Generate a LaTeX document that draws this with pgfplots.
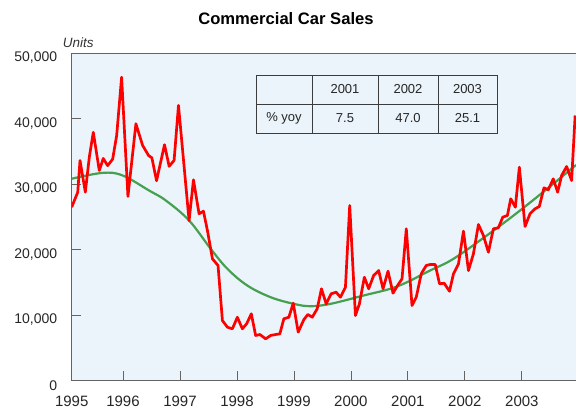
\documentclass[border=0pt]{standalone}
\usepackage{pgfplots}
\pgfplotsset{compat=1.18}
\usepackage{pgfplotstable}
\usepackage{fontspec}
\setmainfont{Liberation Sans}
\definecolor{bgblue}{RGB}{234,244,250}
\definecolor{axisgray}{RGB}{100,100,100}
\definecolor{trendgreen}{RGB}{70,160,80}
\definecolor{tablegray}{RGB}{60,60,60}

\pgfplotstableread{
x y
1995.100 26460
1995.206 28750
1995.246 33600
1995.339 28750
1995.409 34100
1995.479 37900
1995.584 32060
1995.654 33900
1995.731 32800
1995.819 33800
1995.889 37400
1995.976 46300
1996.087 28100
1996.227 39200
1996.344 35900
1996.449 34350
1996.507 34000
1996.589 30500
1996.729 36000
1996.810 32700
1996.897 33600
1996.974 42000
1997.160 24400
1997.237 30640
1997.335 25450
1997.412 25850
1997.482 22900
1997.570 18580
1997.668 17560
1997.745 9160
1997.832 8140
1997.920 7890
1998.007 9660
1998.095 7890
1998.170 8660
1998.252 10180
1998.328 6870
1998.403 7020
1998.503 6360
1998.590 6870
1998.678 7020
1998.753 7120
1998.823 9420
1998.911 9660
1998.988 11800
1999.075 7380
1999.174 9300
1999.244 10080
1999.321 9660
1999.408 10940
1999.483 14000
1999.566 11700
1999.653 13240
1999.741 13480
1999.816 12720
1999.904 14250
1999.979 26720
2000.079 9920
2000.149 11700
2000.236 15770
2000.312 14000
2000.399 16030
2000.487 16790
2000.564 14000
2000.651 16690
2000.739 13330
2000.819 14500
2000.897 15530
2000.972 23160
2001.072 11450
2001.147 12720
2001.234 16290
2001.322 17560
2001.392 17710
2001.480 17710
2001.555 14760
2001.637 14850
2001.730 13630
2001.800 16290
2001.888 17810
2001.975 22800
2002.063 16790
2002.150 19340
2002.238 23820
2002.325 22140
2002.413 19590
2002.500 23160
2002.588 23310
2002.665 24940
2002.746 25190
2002.805 27740
2002.886 26460
2002.956 32570
2003.056 23510
2003.143 25450
2003.231 26210
2003.306 26560
2003.388 29420
2003.463 29110
2003.551 30790
2003.628 28750
2003.698 31300
2003.786 32670
2003.873 30530
2003.935 40460
}\salesdata

\pgfplotstableread{
x y
1995.100 30800
1995.643 31700
1995.994 31300
1996.459 29000
1996.752 27480
1997.160 24430
1997.540 20100
1997.832 17050
1998.182 14500
1998.590 12720
1998.998 11700
1999.291 11340
1999.641 11700
2000.224 12980
2000.809 14350
2001.392 16800
2001.800 18580
2002.385 22140
2002.968 25950
2003.551 30030
2003.950 32900
}\trenddata

\begin{document}
\begin{tikzpicture}
\path[use as bounding box] (-71.7pt,-31.5pt) rectangle (504.3pt,380.5pt);
\begin{axis}[
  at={(0pt,0pt)}, anchor=south west,
  scale only axis, width=504.3pt, height=327.5pt,
  xmin=1995.10, xmax=2003.95, ymin=0, ymax=50000,
  scaled y ticks=false, scaled x ticks=false,
  axis background/.style={fill=bgblue},
  axis line style={draw=axisgray, line width=0.8pt},
  xtick={1996,1997,1998,1999,2000,2001,2002,2003},
  xticklabels={1996,1997,1998,1999,2000,2001,2002,2003},
  extra x ticks={1995.10}, extra x tick labels={1995},
  extra x tick style={major tick length=0pt},
  ytick={0,10000,20000,30000,40000,50000},
  yticklabels={0,{10,000},{20,000},{30,000},{40,000},{50,000}},
  xtick pos=bottom, ytick pos=left,
  tick align=inside,
  major tick length=9pt,
  tick style={draw=axisgray, line width=0.8pt},
  xticklabel style={font=\fontsize{15}{15}\selectfont, yshift=-12pt, text=black!85},
  yticklabel style={font=\fontsize{14}{14}\selectfont, xshift=-11pt, yshift=-5pt, text=black!85},
  clip=true,
]
\addplot[trendgreen, line width=2.2pt, smooth, tension=0.6] table[x=x,y=y] {\trenddata};
\addplot[red, line width=2.7pt, line join=round] table[x=x,y=y] {\salesdata};
\end{axis}
% title and unit label
\node[font=\bfseries\fontsize{16.6}{20}\selectfont] at (214.3pt,361.5pt) {Commercial Car Sales};
\node[anchor=west, font=\itshape\fontsize{13.5}{15}\selectfont, text=black!80, inner sep=0pt] at (-9pt,337.5pt) {Units};
% table
\begin{scope}[draw=tablegray, line width=0.8pt]
\draw (184.3pt,247.5pt) rectangle (425.3pt,305.5pt);
\draw (184.3pt,276.5pt) -- (425.3pt,276.5pt);
\draw (240.3pt,247.5pt) -- (240.3pt,305.5pt);
\draw (306.3pt,247.5pt) -- (306.3pt,305.5pt);
\draw (366.3pt,247.5pt) -- (366.3pt,305.5pt);
\end{scope}
\begin{scope}[every node/.style={font=\fontsize{13}{15}\selectfont, text=black!85}]
\node at (273.3pt,291pt) {2001};
\node at (336.3pt,291pt) {2002};
\node at (395.8pt,291pt) {2003};
\node at (212.3pt,262pt) {\% yoy};
\node at (273.3pt,262pt) {7.5};
\node at (336.3pt,262pt) {47.0};
\node at (395.8pt,262pt) {25.1};
\end{scope}
\end{tikzpicture}
\end{document}
